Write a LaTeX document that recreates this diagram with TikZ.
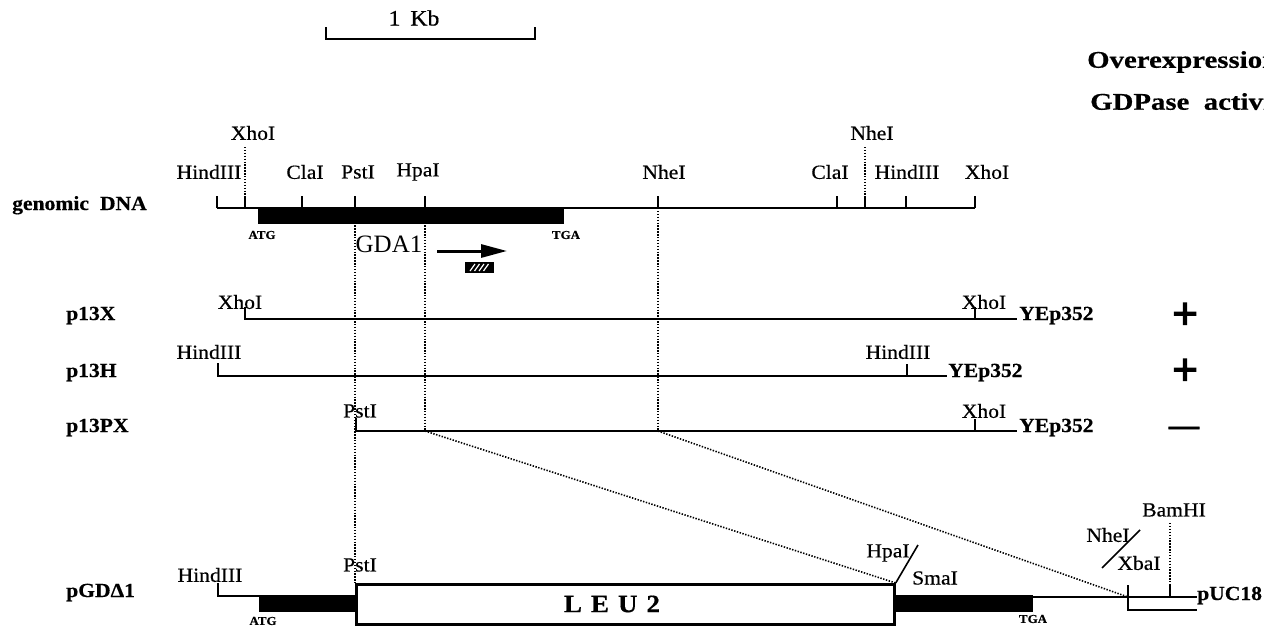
\documentclass[tikz,border=0pt]{standalone}
\usepackage{fontspec}
\setmainfont{Liberation Serif}
\newfontfamily\lblfont[FakeStretch=1.08,FakeBold=0.5]{Liberation Serif}
\newfontfamily\hdrfont[FakeStretch=1.2,FakeBold=0.5]{Liberation Serif}
\newfontfamily\signfont[FakeBold=2.5]{Liberation Serif}
\usetikzlibrary{arrows.meta,calc}
\tikzset{
  enz/.style={font=\lblfont\fontsize{20}{22}\selectfont, inner sep=0pt},
  rowname/.style={font=\lblfont\bfseries\fontsize{20}{22}\selectfont, inner sep=0pt, anchor=base west},
  vec/.style={font=\lblfont\bfseries\fontsize{20}{22}\selectfont, inner sep=0pt, anchor=base west},
  codon/.style={font=\lblfont\bfseries\fontsize{12}{14}\selectfont, inner sep=0pt},
  hdr/.style={font=\hdrfont\bfseries\fontsize{24}{26}\selectfont, inner sep=0pt, anchor=west},
  dna/.style={line width=2.7pt},
  thinline/.style={line width=1.4pt},
  cut/.style={line width=2.4pt},
  dots/.style={line width=1.6pt, dash pattern=on 1.4pt off 1.5pt},
  sign/.style={font=\signfont\bfseries\fontsize{46}{48}\selectfont, inner sep=0pt}
}
\begin{document}
\begin{tikzpicture}[x=1pt,y=-1pt]
\useasboundingbox (0,0) rectangle (1264,629);

% scale bar
\coordinate (sbL) at (326,39); \coordinate (sbR) at (535,39);
\draw[line width=2.2pt] ($(sbL)+(0,-12)$) -- (sbL) -- (sbR) -- ($(sbR)+(0,-12)$);
\node[font=\lblfont\fontsize{22}{24}\selectfont, inner sep=0pt] (kb) at (414,18) {1\hspace{0.45em}Kb};

% headers
\node[hdr] (hOver) at (1087,62) {Overexpression};
\node[hdr] (hAct) at (1090,104) {GDPase\hspace{0.6em}activity};

% ---------------- genomic DNA ----------------
\node[rowname] (nGen) at (12,210) {genomic\hspace{0.55em}DNA};
\coordinate (gHind) at (217,208);
\coordinate (gXho) at (245,208);
\coordinate (gCla) at (302,208);
\coordinate (gPst) at (355,208);
\coordinate (gHpa) at (425,208);
\coordinate (gNhe) at (658,208);
\coordinate (gCla2) at (837,208);
\coordinate (gNhe2) at (865,208);
\coordinate (gHind2) at (906,208);
\coordinate (gXho2) at (975,208);
\fill (258,207) rectangle (564,224);
\draw[dna] (gHind) -- (gXho2);
\foreach \c in {gHind,gXho,gCla,gPst,gHpa,gNhe,gCla2,gNhe2,gHind2,gXho2}
  \draw[cut] (\c) -- ++(0,-12);
\node[enz] (lgHind) at (209,172) {HindIII};
\node[enz] (lgXho) at (253,133) {XhoI};
\node[enz] (lgCla) at (305,172) {ClaI};
\node[enz] (lgPst) at (358,172) {PstI};
\node[enz] (lgHpa) at (418,172) {HpaI};
\node[enz] (lgNhe) at (664,172) {NheI};
\node[enz] (lgCla2) at (830,172) {ClaI};
\node[enz] (lgNhe2) at (872,133) {NheI};
\node[enz] (lgHind2) at (907,172) {HindIII};
\node[enz] (lgXho2) at (987,172) {XhoI};
\draw[dots] (245,147) -- ($(gXho)+(0,-12)$);
\draw[dots] (865,147) -- ($(gNhe2)+(0,-12)$);
\node[codon] (atg1) at (262,235) {ATG};
\node[codon] (tga1) at (566,235) {TGA};
\node[font=\fontsize{25}{28}\selectfont, inner sep=0pt] (gda) at (389,244) {GDA1};
\coordinate (arA) at (437,251); \coordinate (arB) at (507,251);
\draw[line width=3pt, -{Triangle[length=26pt,width=13pt]}] (arA) -- (arB);
\node[fill=black, minimum width=29pt, minimum height=11pt, inner sep=0pt] (probe) at (479.5,267.5) {};
\foreach \i in {0,1,2,3}
  \draw[white, line width=1.2pt] (470+\i*4.5,271) -- (475+\i*4.5,264);

% ---------------- p13X ----------------
\node[rowname] (nX) at (66,320) {p13X};
\coordinate (xA) at (245,319); \coordinate (xB) at (975,319); \coordinate (xC) at (1017,319);
\draw[dna] ($(xA)+(0,-12)$) -- (xA) -- (xB);
\draw[cut] (xB) -- ++(0,-12);
\draw[thinline] (xB) -- (xC);
\node[vec] (vX) at (1019,320) {YEp352};
\node[enz] (lxXho) at (240,302) {XhoI};
\node[enz] (lxXho2) at (984,302) {XhoI};
\node[sign] (sX) at (1185,316) {+};

% ---------------- p13H ----------------
\node[rowname] (nH) at (66,377) {p13H};
\coordinate (hA) at (218,376); \coordinate (hB) at (907,376); \coordinate (hC) at (947,376);
\draw[dna] ($(hA)+(0,-13)$) -- (hA) -- (hB);
\draw[cut] (hB) -- ++(0,-12);
\draw[thinline] (hB) -- (hC);
\node[vec] (vH) at (948,377) {YEp352};
\node[enz] (lhHind) at (209,352) {HindIII};
\node[enz] (lhHind2) at (898,352) {HindIII};
\node[sign] (sH) at (1185,372) {+};

% ---------------- p13PX ----------------
\node[rowname] (nPX) at (66,432) {p13PX};
\coordinate (pA) at (356,431); \coordinate (pB) at (975,431); \coordinate (pC) at (1017,431);
\coordinate (pHpa) at (425,431); \coordinate (pNhe) at (658,431);
\draw[dna] ($(pA)+(0,-13)$) -- (pA) -- (pB);
\draw[cut] (pB) -- ++(0,-12);
\draw[thinline] (pB) -- (pC);
\node[vec] (vPX) at (1019,432) {YEp352};
\node[enz] (lpPst) at (360,411) {PstI};
\node[enz] (lpXho) at (984,411) {XhoI};
\node[font=\signfont\bfseries\fontsize{30}{32}\selectfont, inner sep=0pt] (sPX) at (1184,431) {—};

% ---------------- pGD delta 1 ----------------
\node[rowname] (nD) at (66,597) {pGDΔ1};
\coordinate (dHind) at (218,596);
\coordinate (dBar) at (259,596);
\draw[dna] ($(dHind)+(0,-13)$) -- (dHind) -- (dBar);
\fill (259,595) rectangle (356,612);
\node[draw, line width=2.7pt, inner sep=0pt, minimum width=538pt, minimum height=40pt, anchor=north west] (leu) at (355,583) {};
\node[font=\lblfont\bfseries\fontsize{25}{27}\selectfont, inner sep=0pt] (leuT) at (612,604) {L\hspace{9pt}E\hspace{9pt}U\hspace{9pt}2};
\fill (893,595) rectangle (1033,612);
\coordinate (dJ) at (1128,597);
\coordinate (dEnd) at (1197,597);
\coordinate (dBam) at (1170,597);
\draw[line width=2.2pt] (1033,597) -- (dEnd);
\draw[line width=1.9pt] (1128,585) -- (1128,610) -- (1197,610);
\draw[line width=1.9pt] (dBam) -- ++(0,-12);
\draw[dots] (1170,523) -- (1170,585);
\node[vec] (vD) at (1197,600) {pUC18};
\node[codon] (atg2) at (263,621) {ATG};
\node[codon] (tga2) at (1033,619) {TGA};
\node[enz] (ldHind) at (210,575) {HindIII};
\node[enz] (ldPst) at (360,565) {PstI};
\node[enz] (ldHpa) at (888,553) {HpaI};
\node[enz] (ldSma) at (935,578) {SmaI};
\node[enz] (ldNhe) at (1108,535) {NheI};
\node[enz] (ldXba) at (1139,563) {XbaI};
\node[enz] (ldBam) at (1174,510) {BamHI};
\draw[line width=1.6pt] (leu.north east) -- (918,545);
\draw[line width=1.6pt] (1102,568) -- (1140,530);

% dotted correspondence lines
\draw[dots] (gPst) -- (leu.north west);
\draw[dots] (gHpa) -- (pHpa);
\draw[dots] (gNhe) -- (pNhe);
\draw[dots] (pHpa) -- (leu.north east);
\draw[dots] (pNhe) -- (dJ);
\end{tikzpicture}
\end{document}
